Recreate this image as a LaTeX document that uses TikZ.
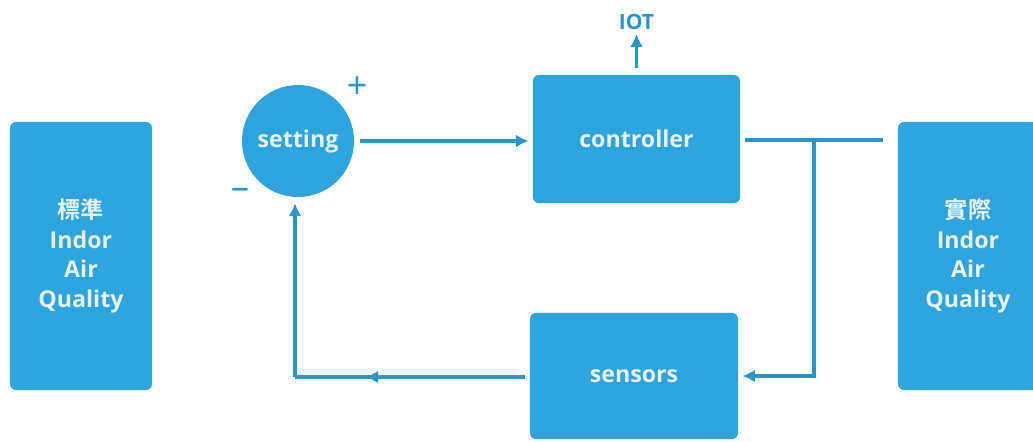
\documentclass[tikz,border=0pt]{standalone}
\usepackage{fontspec}
\setmainfont{Open Sans}
\newfontfamily\cjk{Noto Sans CJK TC}[BoldFont={* Bold}]
\usetikzlibrary{positioning, arrows.meta, decorations.markings}

\definecolor{iaqblue}{HTML}{2EA3DC}
\definecolor{iaqline}{HTML}{2A95CB}
\definecolor{iaqtext}{HTML}{E6F3FA}

\tikzset{
    block/.style={fill=iaqblue, rounded corners=0.15cm, text=iaqtext,
        font=\fontsize{16.5}{21}\selectfont\bfseries, align=center, inner sep=0pt},
    wire/.style={draw=iaqline, line width=2.2pt},
    flow/.style={wire, -{Latex[length=3.2mm,width=3.2mm]}},
    midarrow/.style={postaction={decorate}, decoration={markings,
        mark=at position #1 with {\arrow{Latex[length=3.2mm,width=3.2mm]}}}},
    sign/.style={text=iaqline, font=\fontsize{26}{26}\selectfont, inner sep=0pt}
}

\begin{document}
\begin{tikzpicture}[x=0.025cm, y=-0.025cm]
    \useasboundingbox (0,0) rectangle (1033,441);

    % the two air quality columns
    \node[block, minimum width=3.55cm, minimum height=6.7cm] (target) at (81,256)
        {{\cjk 標準}\\Indor\\Air\\Quality};
    \node[block, minimum width=3.5cm, minimum height=6.7cm] (actual) at (968,256)
        {{\cjk 實際}\\Indor\\Air\\Quality};

    % loop
    \node[block, circle, minimum size=2.8cm] (setting) at (298,141) {setting};
    \node[block, minimum width=5.175cm, minimum height=3.2cm] (controller) at (636.5,139) {controller};
    \node[block, minimum width=5.2cm, minimum height=3.15cm] (sensors) at (634,376) {sensors};
    \node[text=iaqline, font=\fontsize{15}{15}\selectfont\bfseries, inner sep=0pt] (iot) at (636.5,22) {IOT};

    \node[sign] (plus) at (357,88) {+};
    \node[sign] (minus) at (240,194) {\textendash};

    \coordinate (tap) at (814,140);
    \coordinate (outlet) at (883,140);
    \coordinate (corner) at (295,377);

    \draw[flow, shorten <=0.15cm, shorten >=0.1cm] (setting.east) -- (controller.west |- setting.east);
    \draw[flow, shorten <=0.18cm, shorten >=0.1cm] (controller.north) -- (iot.south);
    \draw[wire, shorten <=0.12cm] (controller.east |- tap) -- (outlet);
    \draw[flow, shorten >=0.1cm] (tap) |- (sensors.east);
    \draw[wire, midarrow=0.7, shorten <=0.12cm] (sensors.west |- corner) -- (corner);
    \draw[flow, shorten >=0.15cm] (corner) -- (corner |- setting.south);
\end{tikzpicture}
\end{document}
